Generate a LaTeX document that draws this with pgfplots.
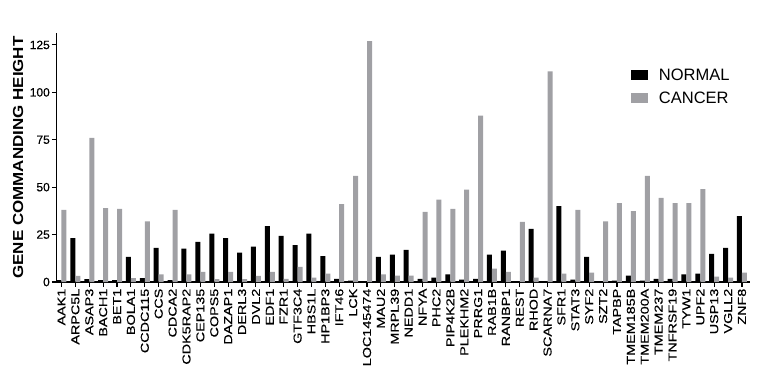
\documentclass[border=0pt]{standalone}
\usepackage{pgfplots}
\pgfplotsset{compat=1.18}
\usepackage{pgfplotstable}
\usepackage{fontspec}
\setmainfont{Liberation Sans}
\newfontfamily\lblfont[FakeStretch=1.25,FakeBold=0.4]{Liberation Sans}
\newfontfamily\tckfont[FakeBold=0.4]{Liberation Sans}
\newfontfamily\ylblfont[FakeStretch=1.17]{Liberation Sans}
\definecolor{cgrey}{RGB}{160,160,164}
\pgfplotstableread{
x n c
0 1.0 38
1 23.2 3.2
2 1.5 76
3 1.0 39
4 1.0 38.5
5 13.3 2.0
6 2.0 32
7 18.0 4.0
8 1.0 38
9 17.6 4.0
10 21.2 5.4
11 25.5 1.5
12 23.2 5.4
13 15.5 1.5
14 18.6 3.2
15 29.5 5.4
16 24.3 1.7
17 19.5 8.0
18 25.5 2.3
19 13.7 4.4
20 1.7 41
21 0.7 56
22 0.5 127
23 13.2 4.0
24 14.4 3.3
25 17.0 3.3
26 1.7 37
27 2.3 43.4
28 4.0 38.6
29 1.2 48.7
30 1.7 87.7
31 14.4 7.0
32 16.5 5.4
33 0.5 31.7
34 28.0 2.3
35 0.3 111
36 40.0 4.4
37 1.2 38
38 13.2 5.0
39 0.3 32
40 0.7 41.6
41 3.3 37.4
42 0.7 56
43 1.7 44.4
44 1.7 41.6
45 4.0 41.6
46 4.4 49
47 14.8 2.8
48 18.0 2.3
49 34.8 5.0
}\data
\begin{document}
\begin{tikzpicture}
\begin{axis}[
  at={(0pt,0pt)}, anchor=south west,
  scale only axis, width=693.5pt, height=249pt,
  xmin=-0.36, xmax=49.58, ymin=0, ymax=131.3,
  axis x line*=bottom, axis y line*=left,
  axis line style={line width=1.6pt, black},
  ytick={0,25,50,75,100,125},
  xtick={0,...,49},
  xticklabels={AAK1,ARPC5L,ASAP3,BACH1,BET1,BOLA1,CCDC115,CCS,CDCA2,CDK5RAP2,CEP135,COPS5,DAZAP1,DERL3,DVL2,EDF1,FZR1,GTF3C4,HBS1L,HP1BP3,IFT46,LCK,LOC145474,MAU2,MRPL39,NEDD1,NFYA,PHC2,PIP4K2B,PLEKHM2,PRRG1,RAB1B,RANBP1,REST,RHOD,SCARNA7,SFR1,STAT3,SYF2,SZT2,TAPBP,TMEM185B,TMEM200A,TMEM237,TNFRSF19,TYW1,UPF2,USP13,VGLL2,ZNF8},
  x tick label style={rotate=90, anchor=east, font=\lblfont\fontsize{11.5}{12}\selectfont, inner sep=2pt},
  y tick label style={font=\tckfont\fontsize{12}{13}\selectfont, inner sep=2pt},
  /pgf/number format/assume math mode=true,
  tick align=outside, major tick length=4.5pt,
  tick style={line width=1.1pt, black},
  ylabel={GENE COMMANDING HEIGHT},
  ylabel style={font=\ylblfont\bfseries\fontsize{14.5}{16}\selectfont, at={(axis description cs:-0.0555,0.5)}, anchor=center},
  ybar, bar width=0.36,
  legend style={at={(axis description cs:0.828,0.865)}, anchor=north west, draw=none, fill=none,
    font=\fontsize{16.5}{18}\selectfont, inner sep=0pt, row sep=6pt,
    /tikz/every odd column/.append style={column sep=9pt}},
  legend cell align=left,
  legend image code/.code={\fill[#1] (0pt,-5pt) rectangle (17pt,5pt);},
]
\addplot[fill=black, draw=none, bar shift=-0.18] table[x=x, y=n] {\data};
\addplot[fill=cgrey, draw=none, bar shift=0.18] table[x=x, y=c] {\data};
\legend{NORMAL, CANCER}
\end{axis}
\pgfresetboundingbox
\path[use as bounding box] (-56.5pt,-98pt) rectangle (710.5pt,282pt);
\end{tikzpicture}
\end{document}
